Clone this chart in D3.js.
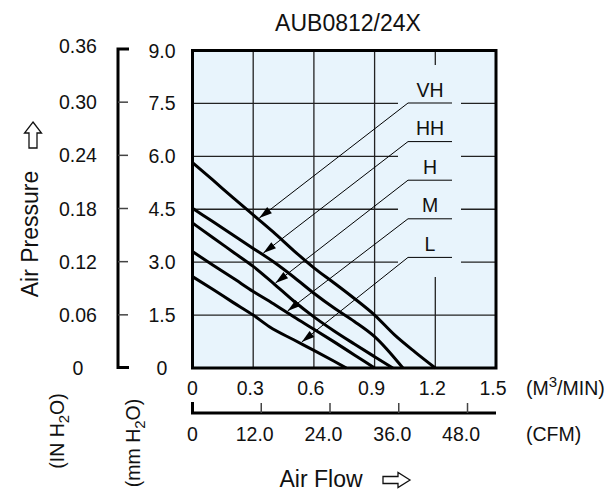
<!DOCTYPE html>
<html>
<head>
<meta charset="utf-8">
<script src="https://cdn.jsdelivr.net/npm/d3@7"></script>
<style>
  body { margin: 0; background: #fff; }
  svg text { font-family: "Liberation Sans", Arial, sans-serif; fill: #111; }
</style>
</head>
<body>
<svg id="chart" width="616" height="504"></svg>
<script>
// fan curve AUB0812/24X, flow in m3/min, pressure in mm H2O
const seriesNames = ["VH", "HH", "H", "M", "L"];
const flowVH = [0, 0.1, 0.2, 0.3, 0.4, 0.5, 0.6, 0.7, 0.8, 0.9, 1.0, 1.1, 1.2];
const pressVH = [5.82, 5.33, 4.83, 4.34, 3.85, 3.33, 2.84, 2.41, 1.97, 1.50, 0.93, 0.45, 0];
const flowHH = [0, 0.1, 0.2, 0.3, 0.4, 0.5, 0.6, 0.7, 0.8, 0.9, 1.04];
const pressHH = [4.53, 4.15, 3.77, 3.39, 3.01, 2.58, 2.12, 1.70, 1.32, 0.89, 0];
const flowH = [0, 0.1, 0.2, 0.3, 0.4, 0.5, 0.6, 0.7, 0.8, 0.9, 0.99];
const pressH = [4.11, 3.70, 3.29, 2.88, 2.40, 1.90, 1.45, 1.05, 0.68, 0.32, 0];
const flowM = [0, 0.1, 0.2, 0.3, 0.4, 0.5, 0.6, 0.7, 0.8, 0.9];
const pressM = [3.30, 2.92, 2.55, 2.17, 1.82, 1.45, 1.10, 0.74, 0.37, 0];
const flowL = [0, 0.1, 0.2, 0.3, 0.38, 0.5, 0.6, 0.7, 0.76];
const pressL = [2.59, 2.23, 1.86, 1.50, 1.17, 0.80, 0.50, 0.19, 0];
// where each leader arrow touches its curve (m3/min)
const arrowFlow = [0.33, 0.35, 0.41, 0.47, 0.54];

const flowTicks = [0, 0.3, 0.6, 0.9, 1.2, 1.5];
const cfmTicks = [0, 12, 24, 36, 48];
const mmTicks = [0, 1.5, 3, 4.5, 6, 7.5, 9];
const inTicks = [0, 0.06, 0.12, 0.18, 0.24, 0.30, 0.36];

const flows = [flowVH, flowHH, flowH, flowM, flowL];
const presses = [pressVH, pressHH, pressH, pressM, pressL];
const series = seriesNames.map((name, i) => ({
  name: name,
  points: flows[i].map((q, j) => ({q: q, p: presses[i][j]})),
  tip: arrowFlow[i]
}));

const svg = d3.select("#chart");
const pL = 192.5, pR = 496, pT = 50.5, pB = 368;

const x = d3.scaleLinear().domain([0, 1.5]).range([pL, pR]);
const y = d3.scaleLinear().domain([0, 9]).range([pB, pT]);
const yIn = d3.scaleLinear().domain([0, 0.36]).range([pB, 49]);
const xCfm = d3.scaleLinear().domain([0, 1.5 * 35.3147]).range([pL, pR]);

const fmt = (f) => (v) => v === 0 ? "0" : d3.format(f)(v);

// title
svg.append("text")
  .attr("x", 348).attr("y", 31)
  .attr("text-anchor", "middle")
  .style("font-size", "23px")
  .text("AUB0812/24X");

// plot background
svg.append("rect")
  .attr("x", pL).attr("y", pT)
  .attr("width", pR - pL).attr("height", pB - pT)
  .attr("fill", "#e8f4fc");

// grid
const grid = svg.append("g").attr("stroke", "#222").attr("stroke-width", 1.3);
grid.selectAll("line.v")
  .data(flowTicks.slice(1, -1))
  .enter().append("line")
  .attr("class", "v")
  .attr("x1", d => x(d)).attr("x2", d => x(d))
  .attr("y1", pT).attr("y2", pB);
grid.selectAll("line.h")
  .data(mmTicks.slice(1, -1))
  .enter().append("line")
  .attr("class", "h")
  .attr("x1", pL).attr("x2", pR)
  .attr("y1", d => y(d)).attr("y2", d => y(d));

// blank area behind the legend labels
svg.append("rect")
  .attr("x", 398).attr("y", 65)
  .attr("width", 63).attr("height", 212)
  .attr("fill", "#e8f4fc");

// curves
const line = d3.line()
  .x(d => x(d.q))
  .y(d => y(d.p))
  .curve(d3.curveMonotoneX);

svg.append("g").selectAll("path")
  .data(series)
  .enter().append("path")
  .attr("d", d => line(d.points))
  .attr("fill", "none")
  .attr("stroke", "#000")
  .attr("stroke-width", 3)
  .attr("stroke-linejoin", "round");

// legend leaders
function pressAt(points, q) {
  for (let i = 1; i < points.length; i++) {
    if (q <= points[i].q) {
      const a = points[i - 1], b = points[i];
      return a.p + (b.p - a.p) * (q - a.q) / (b.q - a.q);
    }
  }
  return 0;
}

const leg = svg.append("g");
series.forEach((s, i) => {
  const hy = 103 + i * 38.6;
  const tx = x(s.tip), ty = y(pressAt(s.points, s.tip)) - 2;
  leg.append("line")
    .attr("x1", 408).attr("x2", 452).attr("y1", hy).attr("y2", hy)
    .attr("stroke", "#000").attr("stroke-width", 1);
  leg.append("line")
    .attr("x1", 408).attr("y1", hy).attr("x2", tx).attr("y2", ty)
    .attr("stroke", "#000").attr("stroke-width", 1);
  const ang = Math.atan2(hy - ty, 408 - tx);
  const len = 13, w = 3.8;
  const bx = tx + len * Math.cos(ang), by = ty + len * Math.sin(ang);
  const nx = -Math.sin(ang) * w, ny = Math.cos(ang) * w;
  leg.append("path")
    .attr("d", `M${tx},${ty}L${bx + nx},${by + ny}L${bx - nx},${by - ny}Z`)
    .attr("fill", "#000");
  leg.append("text")
    .attr("x", 430).attr("y", hy - 6.5)
    .attr("text-anchor", "middle")
    .style("font-size", "19.5px")
    .text(s.name);
});

// plot frame
svg.append("rect")
  .attr("x", pL).attr("y", pT)
  .attr("width", pR - pL).attr("height", pB - pT)
  .attr("fill", "none").attr("stroke", "#000").attr("stroke-width", 3);

// mm H2O labels
svg.append("g").selectAll("text")
  .data(mmTicks)
  .enter().append("text")
  .attr("x", 162).attr("y", d => y(d))
  .attr("dy", "0.36em")
  .attr("text-anchor", "middle")
  .style("font-size", "19.5px")
  .text(fmt(".1f"));

// IN H2O axis
const ax = svg.append("g");
ax.append("path")
  .attr("d", `M129,${yIn(0.36)}H118V${pB - 0.5}H129`)
  .attr("fill", "none").attr("stroke", "#000").attr("stroke-width", 3);
ax.selectAll("line")
  .data(inTicks.slice(1, -1))
  .enter().append("line")
  .attr("x1", 118).attr("x2", 128)
  .attr("y1", d => yIn(d)).attr("y2", d => yIn(d))
  .attr("stroke", "#444").attr("stroke-width", 1.5);
ax.selectAll("text")
  .data(inTicks)
  .enter().append("text")
  .attr("x", 78).attr("y", d => yIn(d) - (d === 0.36 ? 3 : 0))
  .attr("dy", "0.36em")
  .attr("text-anchor", "middle")
  .style("font-size", "19.5px")
  .text(fmt(".2f"));

// flow labels
svg.append("g").selectAll("text")
  .data(flowTicks)
  .enter().append("text")
  .attr("x", d => d === 0 ? x(d) : x(d) - 3)
  .attr("y", 388).attr("dy", "0.36em")
  .attr("text-anchor", "middle")
  .style("font-size", "19.5px")
  .text(fmt(".1f"));

// CFM axis
const cf = svg.append("g");
cf.append("path")
  .attr("d", `M${pL},402V${413}H${pR}`)
  .attr("fill", "none").attr("stroke", "#000").attr("stroke-width", 3);
cf.selectAll("line")
  .data(cfmTicks.slice(1))
  .enter().append("line")
  .attr("x1", d => xCfm(d)).attr("x2", d => xCfm(d))
  .attr("y1", 403).attr("y2", 413)
  .attr("stroke", "#444").attr("stroke-width", 1.5);
cf.selectAll("text")
  .data(cfmTicks)
  .enter().append("text")
  .attr("x", d => d === 0 ? xCfm(d) : xCfm(d) - 6.5)
  .attr("y", 434).attr("dy", "0.36em")
  .attr("text-anchor", "middle")
  .style("font-size", "19.5px")
  .text(fmt(".1f"));

// unit labels
const m3 = svg.append("text").attr("x", 526).attr("y", 395).style("font-size", "19.5px");
m3.append("tspan").text("(M");
m3.append("tspan").attr("dy", -8).style("font-size", "15px").text("3");
m3.append("tspan").attr("dy", 8).text("/MIN)");
svg.append("text").attr("x", 526).attr("y", 441).style("font-size", "19.5px").text("(CFM)");

function rotatedUnit(cx, cy, pre) {
  const t = svg.append("text")
    .attr("transform", `translate(${cx},${cy}) rotate(-90)`)
    .attr("text-anchor", "middle")
    .style("font-size", "19.5px");
  t.append("tspan").text(pre + " H");
  t.append("tspan").attr("dy", 5).style("font-size", "15px").text("2");
  t.append("tspan").attr("dy", -5).text("O)");
}
rotatedUnit(64, 431, "(IN");
rotatedUnit(140, 443, "(mm");

// axis titles with hollow arrows
svg.append("text")
  .attr("transform", "translate(38,234) rotate(-90)")
  .attr("text-anchor", "middle")
  .style("font-size", "23px")
  .text("Air Pressure");
svg.append("path")
  .attr("d", "M33,122L41.5,133H37V148H29V133H24.5Z")
  .attr("fill", "#fff").attr("stroke", "#111").attr("stroke-width", 1.3);

svg.append("text")
  .attr("x", 321).attr("y", 487)
  .attr("text-anchor", "middle")
  .style("font-size", "23px")
  .text("Air Flow");
svg.append("path")
  .attr("d", "M410,480L398,472.5V476.5H383V483.5H398V487.5Z")
  .attr("fill", "#fff").attr("stroke", "#111").attr("stroke-width", 1.3);
</script>
</body>
</html>
